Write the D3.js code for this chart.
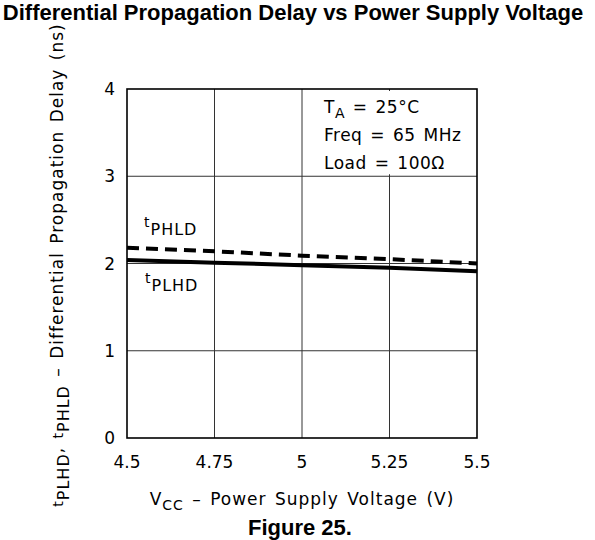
<!DOCTYPE html>
<meta charset="utf-8">
<style>
body { margin: 0; background: #fff; }
svg { display: block; }
.chart-text { font-family: "DejaVu Sans", sans-serif; font-size: 17px; letter-spacing: 1px; word-spacing: 2px; fill: #000; }
.tick { letter-spacing: 0; }
.cond { letter-spacing: 0.5px; }
.title { font-family: "Liberation Sans", Arial, sans-serif; font-weight: bold; font-size: 22px; fill: #000; }
.grid line { stroke: #333; stroke-width: 1; }
</style>
<body>
<script src="https://cdn.jsdelivr.net/npm/d3@7"></script>
<script>

// supply voltage (V)
var vcc = [4.5, 4.75, 5, 5.25, 5.5];
// delay (ns)
var tPHLD = [2.18, 2.14, 2.09, 2.05, 2.0];
var tPLHD = [2.04, 2.01, 1.98, 1.95, 1.91];
var xTicks = [4.5, 4.75, 5, 5.25, 5.5];
var yTicks = [0, 1, 2, 3, 4];
var conditions = [["T", "A", " = 25°C"], ["Freq = 65 MHz"], ["Load = 100Ω"]];

var width = 595, height = 540;
var margin = {top: 89, right: 118, bottom: 102, left: 127};
var w = width - margin.left - margin.right,
    h = height - margin.top - margin.bottom;

var svg = d3.select("body").append("svg")
    .attr("width", width)
    .attr("height", height);

svg.append("text")
    .attr("class", "title")
    .attr("x", 293)
    .attr("y", 20)
    .attr("text-anchor", "middle")
    .text("Differential Propagation Delay vs Power Supply Voltage");

var x = d3.scaleLinear().domain([4.5, 5.5]).range([0, w]);
var y = d3.scaleLinear().domain([0, 4]).range([h, 0]);

var g = svg.append("g")
    .attr("transform", "translate(" + margin.left + "," + margin.top + ")");

// grid
var grid = g.append("g").attr("class", "grid");
grid.selectAll(".vx")
    .data(xTicks.slice(1, -1))
  .enter().append("line")
    .attr("x1", x).attr("x2", x)
    .attr("y1", 0).attr("y2", h);
grid.selectAll(".hy")
    .data(yTicks.slice(1, -1))
  .enter().append("line")
    .attr("x1", 0).attr("x2", w)
    .attr("y1", y).attr("y2", y);

// condition box hides the grid behind it
g.append("rect")
    .attr("x", x(5) + 2)
    .attr("y", 2)
    .attr("width", x(5.5) - x(5) - 4)
    .attr("height", y(3) - 4)
    .attr("fill", "#fff");

var cond = g.append("text")
    .attr("class", "chart-text cond");
conditions.forEach(function(c, i) {
  var line = cond.append("tspan")
      .attr("x", x(5) + 22)
      .attr("y", 24 + i * 28);
  if (c.length === 3) {
    line.append("tspan").text(c[0]);
    line.append("tspan").attr("dy", 5).style("font-size", "14px").text(c[1]);
    line.append("tspan").attr("dy", -5).text(c[2]);
  } else {
    line.text(c[0]);
  }
});

// frame
g.append("rect")
    .attr("width", w)
    .attr("height", h)
    .attr("fill", "none")
    .attr("stroke", "#000")
    .attr("stroke-width", 1.6);

// tick labels
g.selectAll(".ytick")
    .data(yTicks)
  .enter().append("text")
    .attr("class", "chart-text tick")
    .attr("x", -12)
    .attr("y", y)
    .attr("dy", "0.36em")
    .attr("text-anchor", "end")
    .text(function(d) { return d; });

g.selectAll(".xtick")
    .data(xTicks)
  .enter().append("text")
    .attr("class", "chart-text tick")
    .attr("x", x)
    .attr("y", h + 30)
    .attr("text-anchor", "middle")
    .text(function(d) { return d; });

var line = d3.line()
    .x(function(d, i) { return x(vcc[i]); })
    .y(function(d) { return y(d); });

g.append("path")
    .datum(tPHLD)
    .attr("d", line)
    .attr("fill", "none")
    .attr("stroke", "#000")
    .attr("stroke-width", 4)
    .attr("stroke-dasharray", "12,7");

g.append("path")
    .datum(tPLHD)
    .attr("d", line)
    .attr("fill", "none")
    .attr("stroke", "#000")
    .attr("stroke-width", 4);

function subLabel(sel, main, sub, ax, ay) {
  var t = sel.append("text")
      .attr("class", "chart-text")
      .attr("x", ax)
      .attr("y", ay);
  t.append("tspan").style("font-size", "14px").text(main);
  t.append("tspan").attr("dy", 8).style("font-size", "16px").text(sub);
  return t;
}

subLabel(g, "t", "PHLD", 17, 138);
subLabel(g, "t", "PLHD", 18, 194);

// x title
var xt = svg.append("text")
    .attr("class", "chart-text")
    .attr("x", margin.left + w / 2)
    .attr("y", 505)
    .attr("text-anchor", "middle");
xt.append("tspan").text("V");
xt.append("tspan").attr("dy", 5).style("font-size", "14px").text("CC");
xt.append("tspan").attr("dy", -5).text(" – Power Supply Voltage (V)");

// y title
var yt = svg.append("text")
    .attr("class", "chart-text")
    .attr("transform", "translate(63,265) rotate(-90)")
    .attr("text-anchor", "middle");
yt.append("tspan").style("font-size", "14px").text("t");
yt.append("tspan").attr("dy", 6).style("font-size", "16px").text("PLHD");
yt.append("tspan").attr("dy", -6).text(", ");
yt.append("tspan").style("font-size", "14px").text("t");
yt.append("tspan").attr("dy", 6).style("font-size", "16px").text("PHLD");
yt.append("tspan").attr("dy", -6).text(" – Differential Propagation Delay (ns)");

svg.append("text")
    .attr("class", "title")
    .attr("x", 300)
    .attr("y", 535)
    .attr("text-anchor", "middle")
    .text("Figure 25.");

</script>
</body>
